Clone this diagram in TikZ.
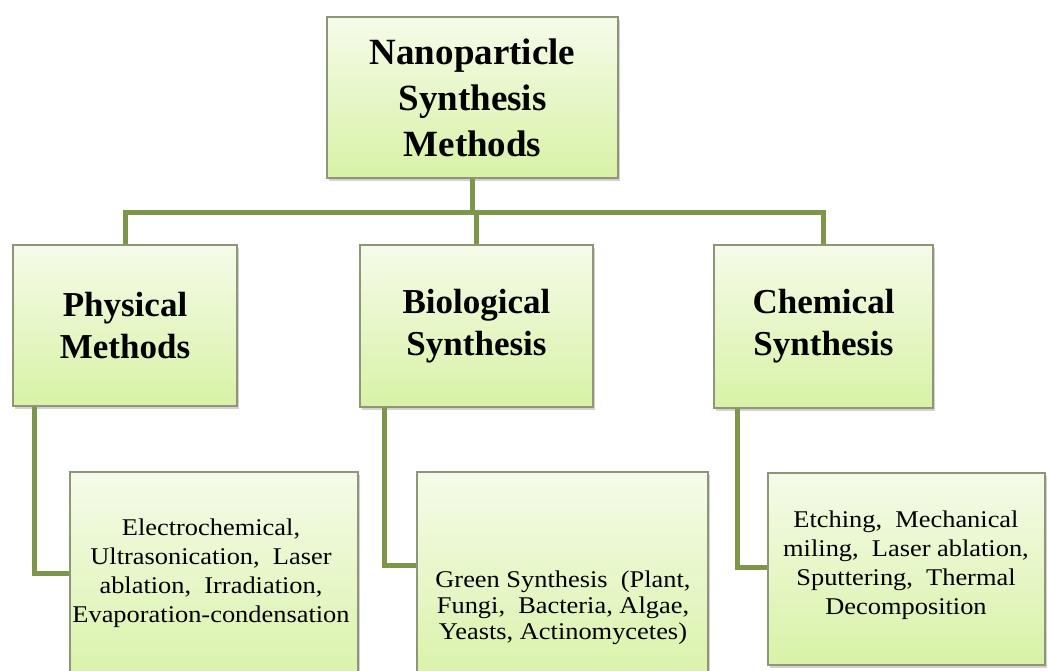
\documentclass[tikz,border=0pt]{standalone}
\usepackage{fontspec}
\setmainfont{Liberation Serif}
\newfontfamily\widefont[FakeStretch=1.1]{Liberation Serif}
\usetikzlibrary{shadows}
\definecolor{boxtop}{HTML}{F5FBE9}
\definecolor{boxbot}{HTML}{D8F2A6}
\definecolor{boxline}{HTML}{8E9579}
\definecolor{conncol}{HTML}{7D9649}
\tikzset{
  box/.style={draw=boxline, line width=1.3pt, top color=boxtop, bottom color=boxbot,
    drop shadow={shadow xshift=2pt, shadow yshift=-3pt, opacity=0.35},
    inner sep=0pt, align=center},
  head/.style={font=\fontsize{35}{42}\selectfont\bfseries},
  body/.style={font=\widefont\fontsize{24}{29}\selectfont, align=center, inner sep=0pt},
  connector/.style={draw=conncol, line width=5pt, line join=miter}
}
\begin{document}
\begin{tikzpicture}[x=1pt,y=-1pt]
\useasboundingbox (0,0) rectangle (1048,671);
\fill[white] (0,0) rectangle (1048,671);
\begin{scope}
\clip (0,0) rectangle (1048,671);
\node[box, minimum width=291pt, minimum height=161pt, font=\fontsize{37}{46}\selectfont\bfseries] (top) at (472.5,97.5) {Nanoparticle\\Synthesis\\Methods};
\node[box, head, minimum width=224pt, minimum height=161pt] (phys) at (125,325.5) {Physical\\Methods};
\node[box, head, minimum width=233pt, minimum height=162pt] (bio) at (476.5,326) {Biological\\Synthesis};
\node[box, head, minimum width=219pt, minimum height=163pt] (chem) at (823.5,326.5) {Chemical\\Synthesis};
\node[box, minimum width=288pt, minimum height=218pt] (elec) at (214,581) {};
\node[box, minimum width=291pt, minimum height=218pt] (green) at (562.5,581) {};
\node[box, minimum width=277pt, minimum height=192pt] (etch) at (906.5,569) {};
\node[body] (elect) at (211,573) {Electrochemical,\\Ultrasonication, \ Laser\\ablation, \ Irradiation,\\Evaporation-condensation};
\node[body, font=\widefont\fontsize{24}{26}\selectfont] (greent) at (563,608) {Green Synthesis \ (Plant,\\Fungi, \ Bacteria, Algae,\\Yeasts, Actinomycetes)};
\node[body] (etcht) at (906,565) {Etching, \ Mechanical\\miling, \ Laser ablation,\\Sputtering, \ Thermal\\Decomposition};
\coordinate (bar) at (0,212);
\draw[connector] (top.south) -- (top.south |- bar);
\draw[connector] (phys.north) -- (phys.north |- bar) -- (chem.north |- bar) -- (chem.north);
\draw[connector] (bio.north) -- (bio.north |- bar);
\draw[connector] ([xshift=22pt]phys.south west) |- (elec.west |- 0,573);
\draw[connector] ([xshift=25pt]bio.south west) |- (green.west |- 0,565);
\draw[connector] ([xshift=24pt]chem.south west) |- (etch.west |- 0,567);
\end{scope}
\end{tikzpicture}
\end{document}
